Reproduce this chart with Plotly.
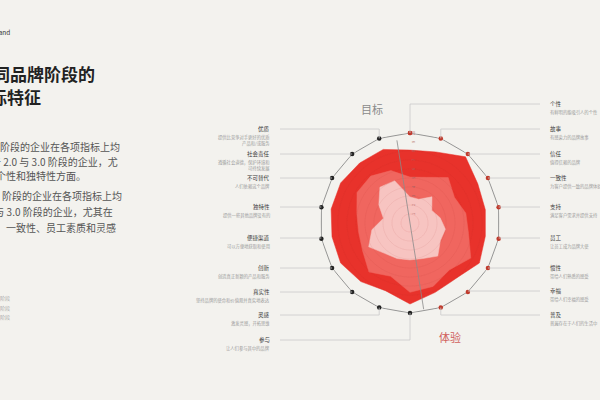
import numpy as np
import plotly.graph_objects as go

# ---------------- data ----------------
# 18 indicators, clockwise starting from the top axis
indicators = ["个性", "故事", "信任", "一致性", "支持", "员工", "惯性", "幸福", "普及",
              "参与", "灵感", "真实性", "创新", "便捷渠道", "独特性", "不可替代", "社会责任", "优质"]
descriptions = ["有鲜明的能吸引人的个性", "有感染力的品牌故事", "值得信赖的品牌",
                "为客户提供一致的品牌体验", "满足客户需求并提供支持", "让员工成为品牌大使",
                "带给人们熟悉的感受", "带给人们幸福的感受", "普遍存在于人们的生活中",
                "让人们参与其中的品牌", "激发灵感，开拓思维",
                "坚持品牌的使命和价值观并真实地表达", "创造真正新颖的产品和服务",
                "可以方便地获取和使用", "提供一些其他品牌没有的",
                "人们依赖这个品牌", "遵循社会道德，保护环境和<br>可持续发展",
                "提供比竞争对手更好的优质<br>产品和/或服务"]
angles = [i * 20 for i in range(18)]

stage_4 = [8.1, 8.4, 9.6, 8.7, 8.5, 8.5, 8.9, 8.0, 8.2, 9.0, 8.0, 8.5, 8.9, 8.8, 8.9, 8.9, 8.7, 8.7]
stage_3 = [5.1, 5.4, 6.6, 5.7, 6.3, 6.6, 7.8, 6.8, 7.5, 7.7, 6.3, 7.1, 6.1, 5.8, 6.0, 6.8, 6.8, 6.2]
stage_2 = [2.9, 2.8, 3.8, 2.8, 3.4, 4.0, 3.9, 4.8, 4.2, 4.1, 4.2, 4.4, 5.3, 4.3, 3.0, 4.0, 5.2, 5.0]
r_max = 10
radial_ticks = list(range(1, 11))

# label line y positions (px) for each indicator
label_y = [104, 129, 154, 178, 207, 238, 268, 291, 315,
           340, 315, 292, 268, 238, 207, 178, 154, 129]

# ---------------- layout geometry ----------------
W, H = 600, 400
CX, CY, R = 410, 223, 90
BG = "#F3F2EE"
FONT = "Noto Sans CJK SC"


def P(x, y):
    return x / W, 1 - y / H


fig = go.Figure()

def closed(v):
    return list(v) + [v[0]]

fills = [(stage_4, "#E8322B"), (stage_3, "#F0665F"), (stage_2, "#F7C4C1")]
for vals, col in fills:
    fig.add_trace(go.Scatterpolar(r=closed(vals), theta=closed(angles), mode="lines",
                                  fill="toself", fillcolor=col,
                                  line=dict(color=col, width=0.5), hoverinfo="skip"))

# faint rings on top
tt = np.linspace(0, 360, 181)
for k in radial_ticks[:-2]:
    fig.add_trace(go.Scatterpolar(r=[k] * len(tt), theta=tt, mode="lines",
                                  line=dict(color="rgba(170,60,60,0.13)", width=0.6),
                                  hoverinfo="skip"))

# divider line through centre
fig.add_trace(go.Scatterpolar(r=[9.3, 9.7], theta=[351, 171], mode="lines",
                              line=dict(color="#8a8a8a", width=0.8), hoverinfo="skip"))

# outer polygon with dots
dot_colors = ["#C0392B" if a < 180 else "#222222" for a in angles]
fig.add_trace(go.Scatterpolar(r=closed([r_max] * 18), theta=closed(angles), mode="lines+markers",
                              line=dict(color="#7d7d7d", width=0.8),
                              marker=dict(size=4.5, color=closed(dot_colors)),
                              hoverinfo="skip"))

fig.update_layout(
    width=W, height=H, margin=dict(l=0, r=0, t=0, b=0),
    paper_bgcolor=BG, plot_bgcolor=BG, showlegend=False,
    font=dict(family=FONT),
    polar=dict(
        domain=dict(x=[(CX - R) / W, (CX + R) / W], y=[1 - (CY + R) / H, 1 - (CY - R) / H]),
        bgcolor="rgba(0,0,0,0)",
        radialaxis=dict(range=[0, r_max], tickvals=radial_ticks, angle=90, showline=False,
                        showgrid=False, ticks="", tickfont=dict(size=4, color="#b06060")),
        angularaxis=dict(rotation=90, direction="clockwise", showticklabels=False,
                         showgrid=False, showline=False, ticks=""),
    ),
)

shapes, annos = [], []
LINE = dict(color="#c9c9c9", width=0.8)
for name, desc, a, ly in zip(indicators, descriptions, angles, label_y):
    dx = CX + R * np.sin(np.radians(a))
    dy = CY - R * np.cos(np.radians(a))
    right = a < 180
    xe = 540 if right else 280
    if abs(ly - dy) > 2:
        x0, y0 = P(dx, dy)
        x1, y1 = P(dx, ly)
        shapes.append(dict(type="line", xref="paper", yref="paper", x0=x0, y0=y0, x1=x1, y1=y1, line=LINE))
    x0, y0 = P(dx, ly)
    x1, y1 = P(xe, ly)
    shapes.append(dict(type="line", xref="paper", yref="paper", x0=x0, y0=y0, x1=x1, y1=y1, line=LINE))
    tx = 548 if right else 272
    anchor = "left" if right else "right"
    hx, hy = P(tx, ly)
    annos.append(dict(x=hx, y=hy, xref="paper", yref="paper", text=name, showarrow=False,
                      xanchor=anchor, yanchor="middle", align=anchor,
                      font=dict(size=5.5, color="#3a3a3a", family=FONT)))
    sx, sy = P(tx, ly + 3)
    annos.append(dict(x=sx, y=sy, xref="paper", yref="paper", text=desc, showarrow=False,
                      xanchor=anchor, yanchor="top", align=anchor,
                      font=dict(size=4.3, color="#9a9a9a", family=FONT)))


def text(x, y, s, size, color, anchor="right", bold=False):
    px, py = P(x, y)
    if bold:
        s = "<b>" + s + "</b>"
    annos.append(dict(x=px, y=py, xref="paper", yref="paper", text=s, showarrow=False,
                      xanchor=anchor, yanchor="middle", align=anchor,
                      font=dict(size=size, color=color, family=FONT)))


text(372, 109, "目标", 11, "#8a8a8a", "center")
text(450, 337, "体验", 11, "#D0605C", "center")

text(12, 32, "Interbrand", 6.5, "#333333")
text(97, 73, "不同品牌阶段的", 17, "#222222", bold=True)
text(43, 97, "指标特征", 17, "#222222", bold=True)

body = [(122, 146, "4.0 阶段的企业在各项指标上均"),
        (120, 161, "优于 2.0 与 3.0 阶段的企业，尤"),
        (88, 176, "其在个性和独特性方面。"),
        (124, 195, "3.0 阶段的企业在各项指标上均"),
        (115, 211, "优于 2.0 与 3.0 阶段的企业，尤其在"),
        (118, 227, "品牌个性、一致性、员工素质和灵感"),
        (4, 244, "方面。")]
for x, y, s in body:
    text(x, y, s, 10, "#555555")

for y, s in [(298, "1.0 阶段"), (308, "2.0 阶段"), (317, "3.0 阶段")]:
    text(12, y, s, 5, "#aaaaaa")

fig.update_layout(shapes=shapes, annotations=annos)
fig.write_html("out.html", config={"displayModeBar": False},
               post_script="document.body.style.margin='0';document.body.style.overflow='hidden';"
                           "document.body.style.background='#F3F2EE';")
